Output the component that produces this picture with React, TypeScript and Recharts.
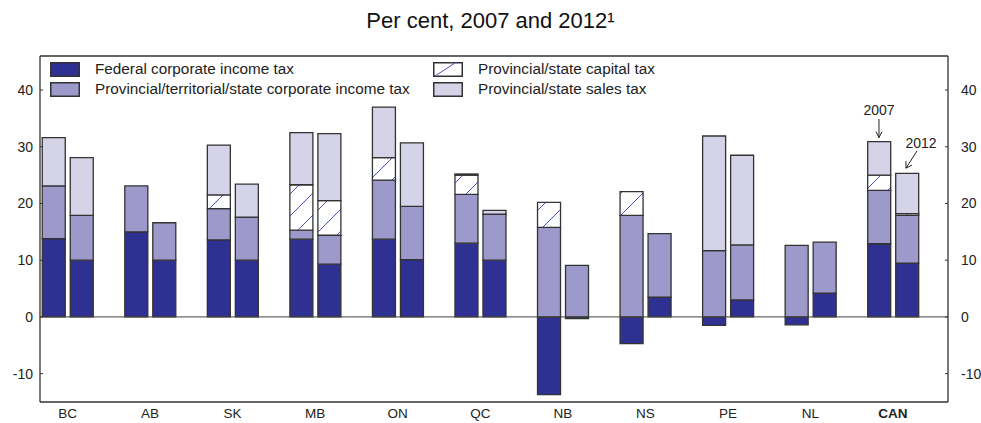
import React from 'react';
import { BarChart, Bar, XAxis, YAxis, ReferenceLine, ReferenceDot } from 'recharts';

const provinces = ['BC', 'AB', 'SK', 'MB', 'ON', 'QC', 'NB', 'NS', 'PE', 'NL', 'CAN'];

// 2007 components (per cent)
const federal2007 = [13.8, 15.0, 13.6, 13.7, 13.7, 13.0, -13.7, -4.7, -1.5, -1.4, 12.9];
const provincial2007 = [9.3, 8.1, 5.5, 1.6, 10.4, 8.6, 15.8, 17.9, 11.7, 12.6, 9.4];
const capital2007 = [0, 0, 2.4, 8.0, 4.0, 3.4, 4.4, 4.2, 0, 0, 2.7];
const sales2007 = [8.5, 0, 8.8, 9.2, 8.9, 0.2, 0, 0, 20.2, 0, 5.9];

// 2012 components (per cent)
const federal2012 = [10.0, 10.0, 10.0, 9.3, 10.1, 10.0, -0.3, 3.5, 3.0, 4.2, 9.5];
const provincial2012 = [7.9, 6.6, 7.6, 5.1, 9.4, 8.1, 9.1, 11.2, 9.7, 9.0, 8.4];
const capital2012 = [0, 0, 0, 6.1, 0, 0, 0, 0, 0, 0, 0.3];
const sales2012 = [10.2, 0, 5.8, 11.8, 11.2, 0.7, 0, 0, 15.8, 0, 7.1];

const yTicks = [-10, 0, 10, 20, 30, 40];

const COLORS = {
  federal: '#2e3192',
  provincial: '#9d99ca',
  sales: '#d5d3e8',
  hatch: '#4a50d0',
  edge: '#333333',
};

const legendItems = [
  { label: 'Federal corporate income tax', fill: COLORS.federal },
  { label: 'Provincial/territorial/state corporate income tax', fill: COLORS.provincial },
  { label: 'Provincial/state capital tax', fill: 'hatch' },
  { label: 'Provincial/state sales tax', fill: COLORS.sales },
];

const data = provinces.map((p, i) => ({
  name: p,
  fed07: federal2007[i],
  prov07: provincial2007[i],
  cap07: capital2007[i],
  sales07: sales2007[i],
  fed12: federal2012[i],
  prov12: provincial2012[i],
  cap12: capital2012[i],
  sales12: sales2012[i],
}));

const FONT = '"Liberation Sans", Arial, sans-serif';

const XTick = (props: any) => {
  const { x, y, payload } = props;
  return (
    <text x={x} y={y} dy="0.71em" textAnchor="middle" fontSize={13.5} fill="#222"
      fontWeight={payload.value === 'CAN' ? 'bold' : 'normal'} fontFamily={FONT}>
      {payload.value}
    </text>
  );
};

const YearMarkers = (props: any) => {
  const { cx, cy } = props;
  const x07 = cx - 14;
  const x12 = cx + 14;
  const top12 = cy + 30.5;
  return (
    <g fontFamily={FONT} fontSize={14} fill="#222">
      <text x={x07} y={115} textAnchor="middle">2007</text>
      <line x1={x07} y1={119} x2={x07} y2={cy - 4} stroke="#222" strokeWidth={1} />
      <path d={`M${x07 - 3},${cy - 10} L${x07},${cy - 4} L${x07 + 3},${cy - 10}`} fill="none" stroke="#222" />
      <text x={x12 + 14} y={148} textAnchor="middle">2012</text>
      <line x1={x12 + 10} y1={151} x2={x12 - 1} y2={top12 - 4} stroke="#222" strokeWidth={1} />
      <path d={`M${x12 - 1},${top12 - 11} L${x12 - 1},${top12 - 4} L${x12 + 5},${top12 - 7}`} fill="none" stroke="#222" />
    </g>
  );
};

const Swatch = ({ fill }: { fill: string }) => (
  <svg width={30} height={15} style={{ display: 'block' }}>
    <rect x={0.75} y={0.75} width={28.5} height={13.5} fill={fill === 'hatch' ? '#fff' : fill} stroke={COLORS.edge} strokeWidth={1.5} />
    {fill === 'hatch' && <line x1={2} y1={14} x2={22} y2={1} stroke={COLORS.hatch} strokeWidth={1} />}
  </svg>
);

export default function App() {
  const barProps = { isAnimationActive: false, stroke: COLORS.edge, strokeWidth: 1.3 };
  return (
    <div style={{ position: 'absolute', left: 0, top: 0, width: 981, height: 423, background: '#fff', fontFamily: FONT }}>
      <div style={{ position: 'absolute', top: 8, left: 0, width: 981, textAlign: 'center', fontSize: 22, color: '#111' }}>
        Per cent, 2007 and 2012¹
      </div>
      <BarChart
        width={981}
        height={423}
        data={data}
        stackOffset="sign"
        barSize={23}
        barGap={5}
        margin={{ top: 56, right: 0, left: 0, bottom: 0 }}
      >
        <defs>
          <pattern id="capHatch" patternUnits="userSpaceOnUse" width={22} height={22}>
            <rect width={22} height={22} fill="#fff" />
            <line x1={0} y1={22} x2={22} y2={0} stroke={COLORS.hatch} strokeWidth={1} />
          </pattern>
        </defs>
        <XAxis
          dataKey="name"
          height={21}
          padding={{ left: -13.75, right: 13.75 }}
          tickLine={false}
          tickSize={0}
          tickMargin={6}
          tick={<XTick />}
          axisLine={{ stroke: '#333', strokeWidth: 1.3 }}
          interval={0}
        />
        <YAxis
          yAxisId="left"
          width={40}
          domain={[-15, 46]}
          ticks={yTicks}
          allowDataOverflow
          tickSize={-3}
          tickMargin={10}
          tick={{ fontSize: 14, fill: '#222', fontFamily: FONT }}
          tickLine={{ stroke: '#333' }}
          axisLine={{ stroke: '#333', strokeWidth: 1.3 }}
        />
        <YAxis
          yAxisId="right"
          orientation="right"
          width={33}
          domain={[-15, 46]}
          ticks={yTicks}
          allowDataOverflow
          tickSize={-3}
          tickMargin={16}
          tick={{ fontSize: 14, fill: '#222', fontFamily: FONT, textAnchor: 'start' }}
          tickLine={{ stroke: '#333' }}
          axisLine={{ stroke: '#333', strokeWidth: 1.3 }}
        />
        <Bar yAxisId="left" dataKey="fed07" stackId="y2007" fill={COLORS.federal} {...barProps} />
        <Bar yAxisId="left" dataKey="prov07" stackId="y2007" fill={COLORS.provincial} {...barProps} />
        <Bar yAxisId="left" dataKey="cap07" stackId="y2007" fill="url(#capHatch)" {...barProps} />
        <Bar yAxisId="left" dataKey="sales07" stackId="y2007" fill={COLORS.sales} {...barProps} />
        <Bar yAxisId="left" dataKey="fed12" stackId="y2012" fill={COLORS.federal} {...barProps} />
        <Bar yAxisId="left" dataKey="prov12" stackId="y2012" fill={COLORS.provincial} {...barProps} />
        <Bar yAxisId="left" dataKey="cap12" stackId="y2012" fill="url(#capHatch)" {...barProps} />
        <Bar yAxisId="left" dataKey="sales12" stackId="y2012" fill={COLORS.sales} {...barProps} />
        <ReferenceLine yAxisId="left" y={0} stroke="#444" strokeWidth={1} />
        <ReferenceLine yAxisId="left" y={46} stroke="#333" strokeWidth={1.3} />
        <ReferenceDot yAxisId="left" x="CAN" y={30.9} shape={<YearMarkers />} />
      </BarChart>
      <div style={{ position: 'absolute', left: 50, top: 59, fontSize: 15.3, color: '#222', lineHeight: '20px' }}>
        {legendItems.map((item, i) => (
          <div key={item.label} style={{
            position: 'absolute',
            left: i < 2 ? 0 : 383,
            top: (i % 2) * 20,
            display: 'flex',
            alignItems: 'center',
            whiteSpace: 'nowrap',
          }}>
            <Swatch fill={item.fill} />
            <span style={{ marginLeft: 15 }}>{item.label}</span>
          </div>
        ))}
      </div>
    </div>
  );
}
